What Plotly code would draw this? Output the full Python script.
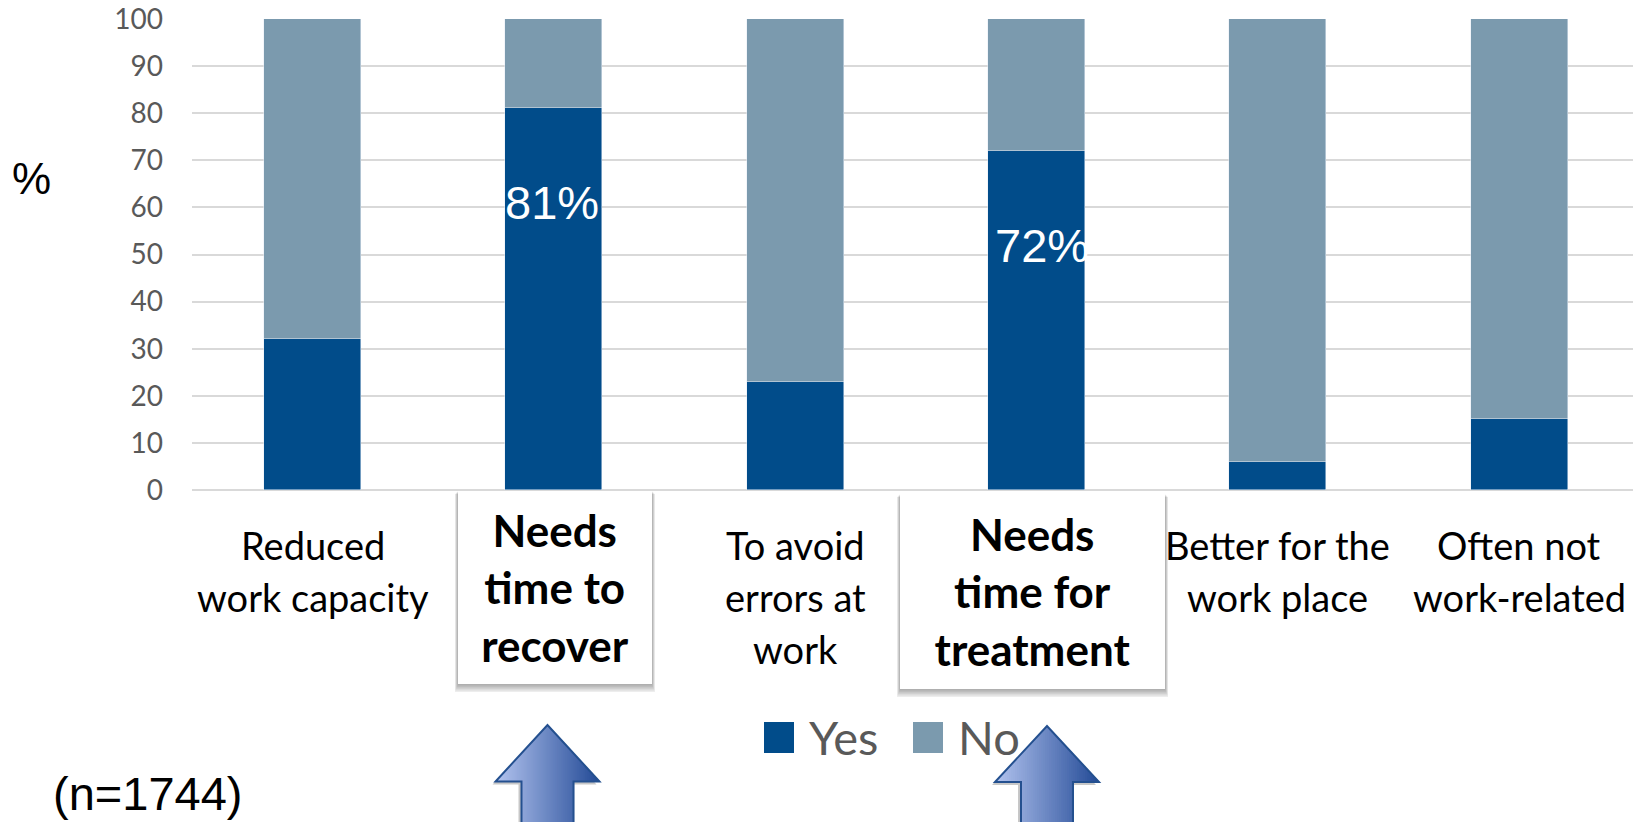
import plotly.graph_objects as go

# ---- data -------------------------------------------------------------
categories = [
    "Reduced work capacity",
    "Needs time to recover",
    "To avoid errors at work",
    "Needs time for treatment",
    "Better for the work place",
    "Often not work-related",
]
label_lines = [
    ["Reduced", "work capacity"],
    ["Needs", "time to", "recover"],
    ["To avoid", "errors at", "work"],
    ["Needs", "time for", "treatment"],
    ["Better for the", "work place"],
    ["Often not", "work-related"],
]
highlighted = [False, True, False, True, False, False]
yes_pct = [32, 81, 23, 72, 6, 15]
no_pct = [68, 19, 77, 28, 94, 85]
y_ticks = [0, 10, 20, 30, 40, 50, 60, 70, 80, 90, 100]
sample_note = "(n=1744)"

# ---- style ------------------------------------------------------------
YES_COLOR = "#014C8A"
NO_COLOR = "#7B9AAE"
GRID_COLOR = "#D9D9D9"
TICK_GRAY = "#595959"
BODY_FONT = "Lato"
ARIAL = "Liberation Sans"

W, H = 1633, 822
ML, MR, MT, MB = 192, 0, 19, 332
PW, PH = W - ML - MR, H - MT - MB
Y0_PX = MT + PH          # pixel row of y = 0
CAT_STEP = 241.3         # pixel width of one category slot


def px_x(p):
    return (p - ML) / PW


def px_y(p):
    return (Y0_PX - p) / PH


fig = go.Figure()
fig.add_trace(go.Bar(name="Yes", x=list(range(len(categories))), y=yes_pct,
                     marker_color=YES_COLOR, width=0.402,
                     hovertext=categories))
fig.add_trace(go.Bar(name="No", x=list(range(len(categories))), y=no_pct,
                     marker_color=NO_COLOR, width=0.402,
                     hovertext=categories))

annotations = []
shapes = []

# category labels, one annotation per line for Office-like line spacing
for i, lines in enumerate(label_lines):
    if highlighted[i]:
        continue
    for k, line in enumerate(lines):
        annotations.append(dict(
            x=i, y=0, xref="x", yref="y", text=line, showarrow=False,
            xanchor="center", yanchor="middle", yshift=-(55 + 52 * k),
            font=dict(family=BODY_FONT, size=38, color="#000000")))

# highlighted categories: bold text on a white card with a soft shadow
card_sizes = {1: (194, 193), 3: (265, 195)}
card_shift = {1: 1, 3: -4}
for i, lines in enumerate(label_lines):
    if not highlighted[i]:
        continue
    cw, ch = card_sizes[i]
    cx = ML + CAT_STEP * (i + 0.5) + card_shift[i]
    top = Y0_PX + 1 + (i == 3) * 3
    for s in range(1, 6):
        shapes.append(dict(
            type="rect", xref="paper", yref="paper", layer="above",
            x0=px_x(cx - cw / 2 - s * 0.6), x1=px_x(cx + cw / 2 + s * 0.6),
            y0=px_y(top + ch + s * 1.6), y1=px_y(top + s * 0.6),
            fillcolor="rgba(0,0,0,0.07)", line=dict(width=0)))
    annotations.append(dict(
        x=px_x(cx), y=px_y(top + ch / 2), xref="paper", yref="paper",
        text="<br>".join(f"<b>{t}</b>" for t in lines), showarrow=False,
        xanchor="center", yanchor="middle", width=cw, height=ch,
        bgcolor="#FFFFFF", borderpad=0, borderwidth=0,
        font=dict(family=BODY_FONT, size=44, color="#000000")))

# value labels on the highlighted bars
for i, v in enumerate(yes_pct):
    if highlighted[i]:
        annotations.append(dict(
            x=i, y=v - 20, xref="x", yref="y", text=f"{v}%",
            showarrow=False, xanchor="center", yanchor="middle",
            xshift=-2 if i == 1 else 5,
            font=dict(family=ARIAL, size=47, color="#FFFFFF")))

# axis title and sample size
annotations.append(dict(x=px_x(31), y=px_y(178), xref="paper", yref="paper",
                        text="%", showarrow=False, xanchor="center",
                        yanchor="middle",
                        font=dict(family=ARIAL, size=44, color="#000000")))
annotations.append(dict(x=px_x(51), y=px_y(822), xref="paper", yref="paper",
                        text=sample_note, showarrow=False, xanchor="left",
                        yanchor="bottom",
                        font=dict(family=ARIAL, size=47, color="#000000")))

# legend drawn by hand so the swatches match the large label text
legend_items = [("Yes", YES_COLOR, 764), ("No", NO_COLOR, 913)]
for name, color, x_left in legend_items:
    shapes.append(dict(type="rect", xref="paper", yref="paper",
                       x0=px_x(x_left), x1=px_x(x_left + 30),
                       y0=px_y(753), y1=px_y(722),
                       fillcolor=color, line=dict(width=0)))
    annotations.append(dict(x=px_x(x_left + 43), y=px_y(737),
                            xref="paper", yref="paper", text=name,
                            showarrow=False, xanchor="left", yanchor="middle",
                            font=dict(family=BODY_FONT, size=47,
                                      color=TICK_GRAY)))


# block arrows with a left-to-right blue gradient
def lerp_color(c0, c1, t):
    a = [int(c0[j:j + 2], 16) for j in (1, 3, 5)]
    b = [int(c1[j:j + 2], 16) for j in (1, 3, 5)]
    return "rgb({},{},{})".format(*[round(a[j] + (b[j] - a[j]) * t) for j in range(3)])


def block_arrow(cx, tip, base, hh, hs, bottom):
    def top_at(x):
        return base - (base - tip) * (1 - abs(x - cx) / hh)

    # soft shadow
    pts = [(cx - hs, bottom), (cx - hs, base), (cx - hh, base), (cx, tip),
           (cx + hh, base), (cx + hs, base), (cx + hs, bottom)]
    sh = " ".join(("M" if n == 0 else "L") + f"{px_x(x - 3):.5f},{px_y(y + 3):.5f}"
                  for n, (x, y) in enumerate(pts)) + " Z"
    shapes.append(dict(type="path", xref="paper", yref="paper", layer="above",
                       path=sh, fillcolor="rgba(0,0,0,0.22)",
                       line=dict(width=0)))
    step = 2
    n = int(2 * hh / step)
    for k in range(n):
        a = cx - hh + k * step
        b = a + step
        bot = bottom if (a >= cx - hs - 1e-6 and b <= cx + hs + 1e-6) else base
        t = (k + 0.5) / n
        col = lerp_color("#B3C4EF", "#234A96", t)
        path = (f"M{px_x(a):.5f},{px_y(bot):.5f} "
                f"L{px_x(a):.5f},{px_y(top_at(a)):.5f} "
                f"L{px_x(b + 0.6):.5f},{px_y(top_at(b)):.5f} "
                f"L{px_x(b + 0.6):.5f},{px_y(bot):.5f} Z")
        shapes.append(dict(type="path", xref="paper", yref="paper",
                           layer="above", path=path, fillcolor=col,
                           line=dict(width=0)))
    outline = " ".join(("M" if n == 0 else "L") + f"{px_x(x):.5f},{px_y(y):.5f}"
                       for n, (x, y) in enumerate(pts))
    shapes.append(dict(type="path", xref="paper", yref="paper", layer="above",
                       path=outline, line=dict(color="#24508F", width=2)))


block_arrow(547.5, 725, 781.5, 52, 26, 840)
block_arrow(1047, 726, 782, 52, 26, 840)

fig.update_layout(
    width=W, height=H,
    margin=dict(l=ML, r=MR, t=MT, b=MB),
    barmode="stack",
    bargap=0,
    showlegend=False,
    plot_bgcolor="#FFFFFF",
    paper_bgcolor="#FFFFFF",
    xaxis=dict(range=[-0.5, -0.5 + PW / CAT_STEP], showticklabels=False,
               showgrid=False, zeroline=False, showline=False, ticks=""),
    yaxis=dict(range=[0, 100], tickvals=y_ticks, showgrid=True,
               gridcolor=GRID_COLOR, gridwidth=2, zeroline=True,
               zerolinecolor=GRID_COLOR, zerolinewidth=2, showline=False,
               ticks="", ticklabelstandoff=28,
               tickfont=dict(family=BODY_FONT, size=28, color=TICK_GRAY)),
    annotations=annotations,
    shapes=shapes,
)

fig.write_html("out.html")
